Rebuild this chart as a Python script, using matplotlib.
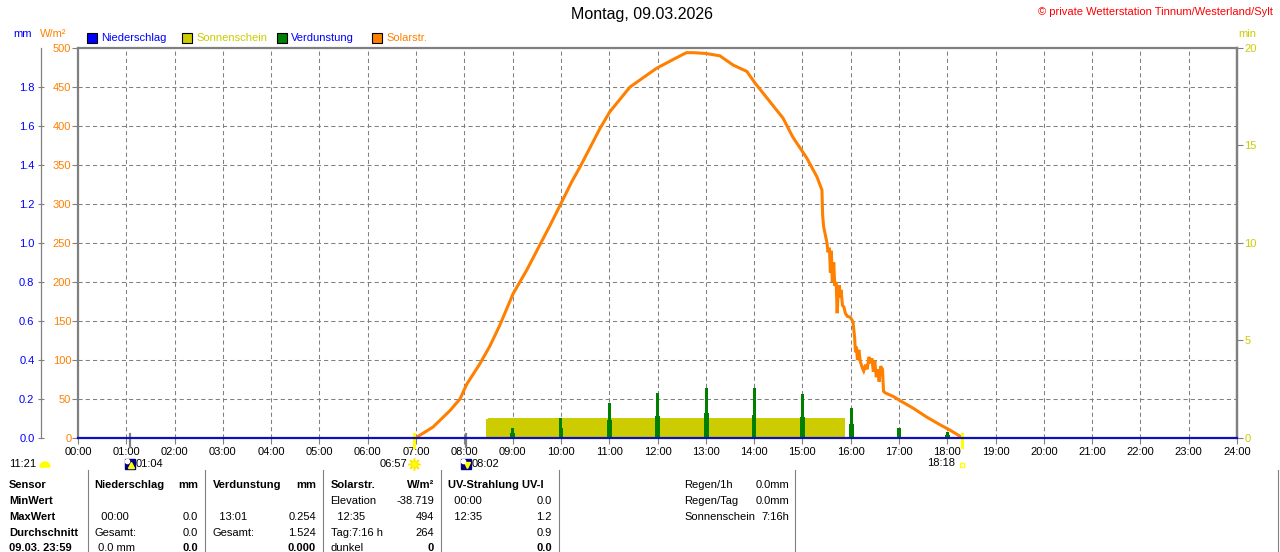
import matplotlib
matplotlib.use('Agg')
import matplotlib.pyplot as plt
from matplotlib.patches import Rectangle, Wedge

# Daten: Solarstrahlung (Stunde, W/m²)
solar_zeit = [6.96, 7.04, 7.35, 7.7, 7.91, 8.05, 8.32, 8.53, 8.73, 9.01, 9.29, 9.5,
              9.77, 9.98, 10.22, 10.4, 10.81, 11.01, 11.43, 11.98, 12.47, 12.6, 12.75,
              13.0, 13.29, 13.57, 13.85, 14.02, 14.33, 14.6, 14.8, 15.09, 15.3, 15.405,
              15.42, 15.44, 15.47, 15.51, 15.53, 15.56, 15.58, 15.6, 15.62, 15.65, 15.67,
              15.7, 15.72, 15.74, 15.76, 15.78, 15.8, 15.83, 15.86, 15.89, 15.93, 15.99,
              16.03, 16.05, 16.08, 16.1, 16.12, 16.14, 16.17, 16.2, 16.24, 16.27, 16.31,
              16.34, 16.38, 16.41, 16.44, 16.47, 16.5, 16.53, 16.56, 16.59, 16.62, 16.66,
              16.68, 16.71, 16.89, 17.02, 17.3, 17.57, 17.85, 18.06, 18.27, 18.3]
solar_wert = [0, 2, 14, 35, 50, 69, 95, 118, 144, 185, 215, 240,
              272, 298, 328, 348, 397, 418, 450, 474, 490, 494, 494,
              493, 490, 478, 470, 455, 431, 410, 386, 359, 335, 318,
              285, 271, 262, 250, 238, 244, 212, 240, 200, 225, 195,
              200, 160, 185, 196, 180, 190, 170, 168, 160, 156, 155,
              151, 148, 130, 110, 117, 100, 113, 98, 90, 86, 94,
              88, 104, 96, 102, 85, 99, 78, 88, 72, 92, 88,
              60, 58, 53, 48, 38, 27, 17, 10, 2, 0]

# Sonnenschein (min pro Minute)
sonne_zeit = [0, 8.45, 8.49, 15.88, 24]
sonne_min = [0, 0.95, 1.0, 0, 0]

# Verdunstung (mm), Spitze und Sockel je Stunde
verd_zeit = [9.0, 10.0, 11.0, 12.0, 13.01, 14.0, 15.01, 16.02, 17.0, 18.0]
verd_spitze = [0.049, 0.103, 0.178, 0.23, 0.254, 0.254, 0.226, 0.155, 0.05, 0.03]
verd_sockel = [0.025, 0.05, 0.09, 0.115, 0.127, 0.12, 0.11, 0.073, 0.03, 0.015]

# Niederschlag (mm)
nieder_zeit = [0, 24]
nieder_wert = [0.0, 0.0]

# Ereignisse (Stunde)
sonnenaufgang = 6.95
sonnenuntergang = 18.30
mondaufgang = 1.067
monduntergang = 8.033

stunden = list(range(25))
stunden_txt = ['%02d:00' % h for h in stunden]

zeilen_kopf = ["Sensor", "MinWert", "MaxWert", "Durchschnitt", "09.03. 23:59"]
nieder_tab = [("Niederschlag", "mm"), ("", ""), ("  00:00", "0.0"), ("Gesamt:", "0.0"), (" 0.0 mm", "0.0")]
verd_tab = [("Verdunstung", "mm"), ("", ""), ("  13:01", "0.254"), ("Gesamt:", "1.524"), ("", "0.000")]
solar_tab = [("Solarstr.", "W/m²"), ("Elevation", "-38.719"), ("  12:35", "494"), ("Tag:7:16 h", "264"), ("dunkel", "0")]
uv_tab = [("UV-Strahlung UV-I", ""), ("  00:00", "0.0"), ("  12:35", "1.2"), ("", "0.9"), ("", "0.0")]
info_txt = [("Regen/1h", "0.0mm"), ("Regen/Tag", "0.0mm"), ("Sonnenschein", "7:16h")]

ORANGE = '#FF8000'
GELB = '#CCCC00'
GRUEN = '#008000'
BLAU = '#0000FF'
GRAU = '#808080'

plt.rcParams['font.family'] = ['Liberation Sans', 'DejaVu Sans']
plt.rcParams['lines.scale_dashes'] = False

W, H = 1280, 552
fig = plt.figure(figsize=(12.8, 5.52), dpi=100)


def box(l, t, r, b):
    return [l / W, 1 - b / H, (r - l) / W, (b - t) / H]


ax = fig.add_axes(box(78, 48, 1237, 438))
ax.set_xlim(0, 24)
ax.set_ylim(0, 500)
ax.set_xticks(stunden)
ax.set_xticklabels(stunden_txt)
ax.set_yticks(range(0, 501, 50))
ax.grid(True, color=GRAU, lw=0.75, ls=(0, (3.0, 2.2)))
ax.set_axisbelow(True)
for s in ['top', 'left', 'right']:
    ax.spines[s].set_color(GRAU)
    ax.spines[s].set_linewidth(1.6)
ax.spines['bottom'].set_visible(False)
ax.tick_params(axis='x', length=4, color=GRAU, labelsize=8, pad=2.5)
ax.tick_params(axis='y', direction='out', length=4.3, color=GRAU, labelcolor=ORANGE,
               labelsize=8, pad=0.5)

# Solarstrahlung
ax.plot(solar_zeit, solar_wert, color=ORANGE, lw=2.2, solid_joinstyle='miter')

# Sonnenauf-/untergang und Mondmarken
for t in [sonnenaufgang, sonnenuntergang]:
    ax.plot([t, t], [-11.5, 5], color='#FFFF00', lw=2.2, clip_on=False, zorder=5)
for t in [mondaufgang, monduntergang]:
    ax.plot([t, t], [-11.5, 5], color=GRAU, lw=1.6, clip_on=False, zorder=5)

# Sonnenschein-Achse (min)
ax3 = ax.twinx()
ax3.set_ylim(0, 20)
ax3.set_yticks([0, 5, 10, 15, 20])
ax3.fill_between(sonne_zeit, sonne_min, step='post', color=GELB, lw=0)
for s in ['top', 'left', 'bottom']:
    ax3.spines[s].set_visible(False)
ax3.spines['right'].set_color(GRAU)
ax3.spines['right'].set_linewidth(1.6)
ax3.tick_params(axis='y', direction='out', length=4.3, color=GRAU, labelcolor=GELB,
                labelsize=8, pad=1)

# Niederschlag/Verdunstung-Achse (mm)
ax2 = ax.twinx()
ax2.set_ylim(0, 2)
ax2.yaxis.tick_left()
ax2.set_yticks([i / 10 for i in range(0, 19, 2)])
ax2.set_yticklabels(['%.1f' % (i / 10) for i in range(0, 19, 2)])
for s in ['top', 'right', 'bottom']:
    ax2.spines[s].set_visible(False)
ax2.spines['left'].set_position(('outward', 26.9))
ax2.spines['left'].set_color(GRAU)
ax2.spines['left'].set_linewidth(0.9)
ax2.tick_params(axis='y', direction='inout', length=5, color=GRAU, labelcolor=BLAU,
                labelsize=8, pad=2)
ax2.bar(verd_zeit, verd_sockel, width=0.1, color=GRUEN, lw=0)
ax2.bar(verd_zeit, verd_spitze, width=0.065, color=GRUEN, lw=0)
ax2.plot(nieder_zeit, nieder_wert, color='#1010B8', lw=1.6, clip_on=False)

# Beschriftung der Ereignisse
ax.annotate('06:57', xy=(sonnenaufgang, 0), xycoords=('data', 'axes fraction'),
            xytext=(-6, -26), textcoords='offset pixels', ha='right', va='center', fontsize=8)
ax.plot([sonnenaufgang], [-33], marker=(8, 2, 0), ms=9, color='#FFE800', mew=1,
        clip_on=False)
ax.plot([sonnenaufgang], [-33], marker='o', ms=5, color='#FFFF00', mec='#FFE800',
        clip_on=False)
ax.annotate('18:18', xy=(sonnenuntergang, 0), xycoords=('data', 'axes fraction'),
            xytext=(-7, -25), textcoords='offset pixels', ha='right', va='center', fontsize=8)
ax.plot([sonnenuntergang], [-34], marker='s', ms=3.5, mfc='white', mec='#FFFF00', mew=1,
        clip_on=False)
for t, txt, mk in [(mondaufgang, '01:04', '^'), (monduntergang, '08:02', 'v')]:
    ax.annotate(txt, xy=(t, 0), xycoords=('data', 'axes fraction'),
                xytext=(6, -26), textcoords='offset pixels', ha='left', va='center', fontsize=8)
    ax.plot([t], [-33], marker='s', ms=7.5, color='#000080', clip_on=False)
    ax.plot([t + 0.03], [-34.5], marker=mk, ms=4, color='#FFFF00', clip_on=False)
    ax.plot([t - 0.06], [-29], marker='o', ms=3, color='white', clip_on=False)

# Overlay fuer Texte
ov = fig.add_axes([0, 0, 1, 1])
ov.set_xlim(0, W)
ov.set_ylim(H, 0)
ov.axis('off')

ov.text(642, 15, 'Montag, 09.03.2026', ha='center', va='center', fontsize=11.5)
ov.text(1273, 12, '© private Wetterstation Tinnum/Westerland/Sylt', ha='right',
        va='center', fontsize=8, color='#FF0000')
ov.text(13, 34, 'mm', ha='left', va='center', fontsize=8, color=BLAU)
ov.text(40, 34, 'W/m²', ha='left', va='center', fontsize=8, color=ORANGE)
ov.text(1238, 34, 'min', ha='left', va='center', fontsize=8, color=GELB)

legende = [(87, BLAU, 'Niederschlag', BLAU), (182, GELB, 'Sonnenschein', GELB),
           (277, GRUEN, 'Verdunstung', BLAU), (372, ORANGE, 'Solarstr.', ORANGE)]
for x, fc, txt, tc in legende:
    ov.add_patch(Rectangle((x, 33), 10, 10, facecolor=fc, edgecolor='black', lw=0.8))
    ov.text(x + 14, 38, txt, ha='left', va='center', fontsize=8, color=tc)

ov.text(9, 464, '11:21', ha='left', va='center', fontsize=8)
ov.add_patch(Wedge((45, 467), 5, 180, 360, color='#FFFF00'))

# Tabelle
zeilen_y = [485, 500.7, 516.7, 532.7, 548.3]
for y, txt in zip(zeilen_y, zeilen_kopf):
    ov.text(9, y, txt, ha='left', va='center', fontsize=8, fontweight='bold')
spalten = [(94.7, 198, nieder_tab), (212.7, 316, verd_tab), (330.6, 434, solar_tab),
           (448, 552, uv_tab)]
for xl, xr, tab in spalten:
    for i, (y, (links, rechts)) in enumerate(zip(zeilen_y, tab)):
        fett = 'bold' if i in (0, 4) else 'normal'
        ov.text(xl, y, links, ha='left', va='center', fontsize=8,
                fontweight='bold' if i == 0 else 'normal')
        ov.text(xr, y, rechts, ha='right', va='center', fontsize=8, fontweight=fett)
for y, (links, rechts) in zip(zeilen_y, info_txt):
    ov.text(684, y, links, ha='left', va='center', fontsize=8)
    ov.text(789, y, rechts, ha='right', va='center', fontsize=8)
for x in [88, 205, 323, 441, 559, 795, 1278]:
    ov.plot([x, x], [470, 552], color=GRAU, lw=0.8)

fig.savefig('out.png', dpi=100)
